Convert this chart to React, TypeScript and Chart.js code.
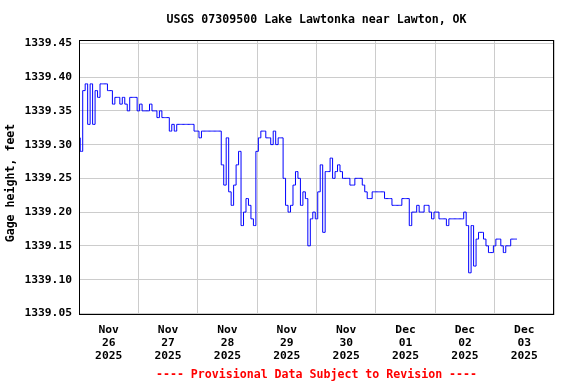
import React, { useEffect, useRef } from 'react';
import { Chart, registerables } from 'chart.js';

Chart.register(...registerables);

const chartTitle = 'USGS 07309500 Lake Lawtonka near Lawton, OK';
const yAxisTitle = 'Gage height, feet';
const footerNote = '---- Provisional Data Subject to Revision ----';

// Day labels (centered on each day)
const dayLabels: string[][] = [
  ['Nov', '26', '2025'],
  ['Nov', '27', '2025'],
  ['Nov', '28', '2025'],
  ['Nov', '29', '2025'],
  ['Nov', '30', '2025'],
  ['Dec', '01', '2025'],
  ['Dec', '02', '2025'],
  ['Dec', '03', '2025'],
];

const yTickValues = [1339.05, 1339.1, 1339.15, 1339.2, 1339.25, 1339.3, 1339.35, 1339.4, 1339.45];

// Hourly readings starting 2025-11-26 00:00 (feet)
const intervalHours = 1;
const gageHeight: number[] = [
  // Nov 26
  1339.31, 1339.29, 1339.38, 1339.39, 1339.33, 1339.39, 1339.33, 1339.38, 1339.37, 1339.39, 1339.39, 1339.39,
  1339.38, 1339.38, 1339.36, 1339.37, 1339.37, 1339.36, 1339.37, 1339.36, 1339.35, 1339.37, 1339.37, 1339.37,
  // Nov 27
  1339.35, 1339.36, 1339.35, 1339.35, 1339.35, 1339.36, 1339.35, 1339.35, 1339.34, 1339.35, 1339.34, 1339.34,
  1339.34, 1339.32, 1339.33, 1339.32, 1339.33, 1339.33, 1339.33, 1339.33, 1339.33, 1339.33, 1339.33, 1339.32,
  // Nov 28
  1339.32, 1339.31, 1339.32, 1339.32, 1339.32, 1339.32, 1339.32, 1339.32, 1339.32, 1339.32, 1339.27, 1339.24,
  1339.31, 1339.23, 1339.21, 1339.24, 1339.27, 1339.29, 1339.18, 1339.2, 1339.22, 1339.21, 1339.19, 1339.18,
  // Nov 29
  1339.29, 1339.31, 1339.32, 1339.32, 1339.31, 1339.31, 1339.3, 1339.32, 1339.3, 1339.31, 1339.31, 1339.25,
  1339.21, 1339.2, 1339.21, 1339.24, 1339.26, 1339.25, 1339.21, 1339.23, 1339.22, 1339.15, 1339.19, 1339.2,
  // Nov 30
  1339.19, 1339.23, 1339.27, 1339.17, 1339.26, 1339.26, 1339.28, 1339.25, 1339.26, 1339.27, 1339.26, 1339.25,
  1339.25, 1339.25, 1339.24, 1339.24, 1339.25, 1339.25, 1339.25, 1339.24, 1339.23, 1339.22, 1339.22, 1339.23,
  // Dec 01
  1339.23, 1339.23, 1339.23, 1339.23, 1339.22, 1339.22, 1339.22, 1339.21, 1339.21, 1339.21, 1339.21, 1339.22,
  1339.22, 1339.22, 1339.18, 1339.2, 1339.2, 1339.21, 1339.2, 1339.2, 1339.21, 1339.21, 1339.2, 1339.19,
  // Dec 02
  1339.2, 1339.2, 1339.19, 1339.19, 1339.19, 1339.18, 1339.19, 1339.19, 1339.19, 1339.19, 1339.19, 1339.19,
  1339.2, 1339.18, 1339.11, 1339.18, 1339.12, 1339.16, 1339.17, 1339.17, 1339.16, 1339.15, 1339.14, 1339.14,
  // Dec 03
  1339.15, 1339.16, 1339.16, 1339.15, 1339.14, 1339.15, 1339.15, 1339.16, 1339.16, 1339.16,
];

const MONO = '"DejaVu Sans Mono", "Liberation Mono", monospace';

const framePlugin = {
  id: 'usgsFrame',
  afterDraw(chart: any) {
    const { ctx, chartArea } = chart;
    const { left, top, right, bottom } = chartArea;
    ctx.save();
    ctx.strokeStyle = '#000000';
    ctx.lineWidth = 1;
    ctx.strokeRect(left + 0.5, top + 0.5, right - left - 1, bottom - top - 1);

    const cx = (left + right) / 2;
    ctx.fillStyle = '#000000';
    ctx.font = `bold 11.6px ${MONO}`;
    ctx.textAlign = 'center';
    ctx.textBaseline = 'middle';
    ctx.fillText(chartTitle, cx, 20);

    ctx.fillStyle = '#ff0000';
    ctx.fillText(footerNote, cx, 375);

    ctx.fillStyle = '#000000';
    ctx.translate(11, 183);
    ctx.rotate(-Math.PI / 2);
    ctx.fillText(yAxisTitle, 0, 0);
    ctx.restore();
  },
};

export default function App() {
  const canvasRef = useRef<HTMLCanvasElement | null>(null);

  useEffect(() => {
    document.body.style.margin = '0';
    const canvas = canvasRef.current;
    if (!canvas) return;
    const points = gageHeight.map((v, i) => ({ x: i * intervalHours, y: v }));
    const chart = new Chart(canvas, {
      type: 'line',
      data: {
        datasets: [
          {
            data: points,
            borderColor: '#0000ff',
            borderWidth: 1,
            pointRadius: 0,
            stepped: 'middle',
            fill: false,
          },
        ],
      },
      options: {
        animation: false,
        responsive: false,
        devicePixelRatio: 1,
        layout: { padding: { left: 0, top: 40, right: 22, bottom: 0 } },
        plugins: {
          legend: { display: false },
          tooltip: { enabled: false },
          title: { display: false },
        },
        scales: {
          x: {
            type: 'linear',
            min: 0,
            max: 192,
            afterBuildTicks: (scale: any) => {
              const t = [];
              for (let h = 0; h <= 192; h += 12) t.push({ value: h });
              scale.ticks = t;
            },
            afterFit: (scale: any) => {
              scale.height = 69;
            },
            ticks: {
              autoSkip: false,
              maxRotation: 0,
              minRotation: 0,
              padding: 9,
              color: '#000000',
              font: { family: MONO, size: 11.3, weight: 'bold', lineHeight: 1.13 },
              callback: (value: any) => {
                const v = Number(value);
                if (v % 24 === 12) return dayLabels[(v - 12) / 24];
                return '';
              },
            },
            grid: {
              drawTicks: false,
              lineWidth: 1,
              color: (c: any) => (c.tick && c.tick.value % 24 === 0 ? '#cccccc' : 'rgba(0,0,0,0)'),
            },
            border: { display: false },
          },
          y: {
            type: 'linear',
            min: 1339.0475,
            max: 1339.455,
            afterBuildTicks: (scale: any) => {
              scale.ticks = yTickValues.map((v) => ({ value: v }));
            },
            afterFit: (scale: any) => {
              scale.width = 79;
            },
            ticks: {
              padding: 7,
              color: '#000000',
              font: { family: MONO, size: 11.3, weight: 'bold' },
              callback: (value: any) => Number(value).toFixed(2),
            },
            grid: { drawTicks: false, color: '#cccccc', lineWidth: 1 },
            border: { display: false },
          },
        },
      },
      plugins: [framePlugin],
    });
    return () => chart.destroy();
  }, []);

  return (
    <div style={{ width: 576, height: 384 }}>
      <canvas ref={canvasRef} width={576} height={384} style={{ display: 'block' }} />
    </div>
  );
}
